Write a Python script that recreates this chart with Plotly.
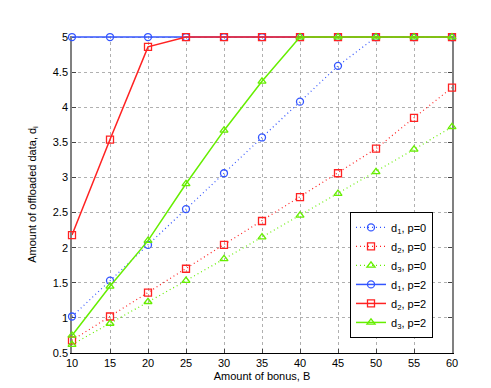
import plotly.graph_objects as go

bonus = [10, 15, 20, 25, 30, 35, 40, 45, 50, 55, 60]

d1_p0 = [1.02, 1.53, 2.04, 2.55, 3.06, 3.57, 4.08, 4.59, 5, 5, 5]
d2_p0 = [0.68, 1.02, 1.36, 1.70, 2.04, 2.38, 2.72, 3.06, 3.41, 3.85, 4.28]
d3_p0 = [0.62, 0.92, 1.23, 1.53, 1.84, 2.15, 2.46, 2.77, 3.08, 3.40, 3.72]
d1_p2 = [5, 5, 5, 5, 5, 5, 5, 5, 5, 5, 5]
d2_p2 = [2.18, 3.54, 4.86, 5, 5, 5, 5, 5, 5, 5, 5]
d3_p2 = [0.75, 1.45, 2.10, 2.91, 3.67, 4.37, 5, 5, 5, 5, 5]

blue = "#3355ff"
red = "#ff2222"
green = "#66ee00"

series = [
    ("d<sub>1</sub>, p=0", d1_p0, blue, "circle-open", "1px,3px", 1.2),
    ("d<sub>2</sub>, p=0", d2_p0, red, "square-open", "1px,3px", 1.2),
    ("d<sub>3</sub>, p=0", d3_p0, green, "triangle-up-open", "1px,3px", 1.2),
    ("d<sub>1</sub>, p=2", d1_p2, blue, "circle-open", "solid", 1.5),
    ("d<sub>2</sub>, p=2", d2_p2, red, "square-open", "solid", 1.5),
    ("d<sub>3</sub>, p=2", d3_p2, green, "triangle-up-open", "solid", 1.5),
]

fig = go.Figure()
for name, vals, col, sym, dash, w in series:
    fig.add_trace(go.Scatter(x=bonus, y=vals, name=name, mode="lines+markers",
                             line=dict(color=col, dash=dash, width=w),
                             marker=dict(symbol=sym, size=7, color=col, line=dict(width=1.3, color=col)),
                             cliponaxis=False))

fig.update_xaxes(title=dict(text="Amount of bonus, B", font=dict(size=11), standoff=4),
                 range=[10, 60], dtick=5, tick0=10, ticks="inside", ticklen=4,
                 showline=True, linecolor="black", linewidth=1, mirror=False,
                 showgrid=True, gridcolor="#b0b0b0", griddash="dot", zeroline=False,
                 layer="below traces",
                 tickfont=dict(size=11, color="black"))
fig.update_yaxes(title=dict(text="Amount of offloaded data, d<sub>i</sub>", font=dict(size=11), standoff=14),
                 range=[0.5, 5.015], dtick=0.5, tick0=0.5, ticks="inside", ticklen=4,
                 showline=True, linecolor="#808080", linewidth=1.5, mirror="ticks",
                 showgrid=True, gridcolor="#b0b0b0", griddash="dot", zeroline=False,
                 layer="below traces",
                 tickfont=dict(size=11, color="black"))
fig.update_layout(width=491, height=388,
                  margin=dict(l=64, r=47, t=28, b=43),
                  font=dict(family="Liberation Sans, Arial, sans-serif", size=11, color="black"),
                  plot_bgcolor="white", paper_bgcolor="white",
                  showlegend=True,
                  legend=dict(x=0.95, y=0.445, xanchor="right", yanchor="top",
                              bgcolor="white", bordercolor="black", borderwidth=1,
                              font=dict(size=11), tracegroupgap=0))
fig.write_html("out.html")
